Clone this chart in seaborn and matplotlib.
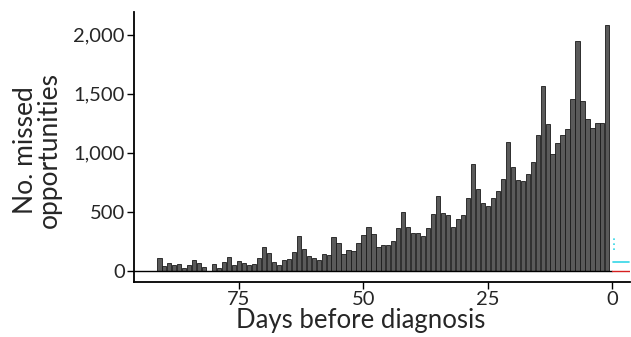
import numpy as np
import pandas as pd
import matplotlib.pyplot as plt
import seaborn as sns
from matplotlib.ticker import FuncFormatter

# -------------------------------
# Data: missed opportunities by days before diagnosis
# -------------------------------

days = list(range(91, 0, -1))

missed = [
    110, 37, 65, 52, 60, 25, 51, 90, 62, 29,        # 91-82
    0, 58, 25, 74, 118, 48, 85, 68, 44, 58,         # 81-72
    107, 198, 146, 76, 48, 90, 102, 160, 294, 184,  # 71-62
    122, 110, 90, 144, 133, 288, 232, 141, 172, 169,  # 61-52
    232, 305, 370, 310, 203, 217, 217, 254, 361, 494,  # 51-42
    372, 316, 316, 296, 359, 482, 632, 491, 469, 372,  # 41-32
    440, 474, 618, 903, 689, 570, 550, 612, 672, 773,  # 31-22
    1086, 875, 765, 757, 815, 917, 1148, 1568, 1241, 985,  # 21-12
    1080, 1145, 1199, 1455, 1946, 1438, 1281, 1207, 1247, 1252,  # 11-2
    2085,                                            # 1
]

yticks = [0, 500, 1000, 1500, 2000]
xticks = [75, 50, 25, 0]

df = pd.DataFrame({"days": days, "missed": missed})

# -------------------------------
# Plot
# -------------------------------

sns.set_style("white")
plt.rcParams["font.family"] = ["Lato", "DejaVu Sans"]

fig = plt.figure(figsize=(6.31, 3.37), dpi=100)
ax = fig.add_axes([0.2124, 0.1632, 0.7856, 0.8008])

sns.barplot(data=df, x="days", y="missed", native_scale=True, width=0.85,
            color="#5a5a5a", saturation=1, edgecolor="#1a1a1a", linewidth=0.6,
            ax=ax)

ax.set_xlim(96.1, -3.5)
ax.set_ylim(-96, 2190)

# zero line (black over data range, red stub past 0)
ax.plot([96.1, 0], [0, 0], color="black", lw=1.0, zorder=1)
ax.plot([0, -3.5], [0, 0], color="#d62020", lw=1.0, zorder=1)
# small cyan marks near the origin
ax.plot([-0.25, -0.25], [175, 275], color="#33d6e6", lw=1.2, ls=(0, (1, 2)))
ax.plot([-0.2, -3.3], [74, 74], color="#33d6e6", lw=1.2)

ax.set_xticks(xticks)
ax.set_yticks(yticks)
ax.yaxis.set_major_formatter(FuncFormatter(lambda v, p: f"{int(v):,}"))

for s in ["top", "right"]:
    ax.spines[s].set_visible(False)
for s in ["left", "bottom"]:
    ax.spines[s].set_color("black")
    ax.spines[s].set_linewidth(1.3)

ax.tick_params(axis="both", direction="out", length=5, width=1.0,
               color="black", labelsize=14.5, pad=1.5, left=True, bottom=True)

ax.set_xlabel("Days before diagnosis", fontsize=18.5)
ax.set_ylabel("No. missed\nopportunities", fontsize=19, linespacing=0.95)
ax.xaxis.set_label_coords(0.458, -0.098)
ax.yaxis.set_label_coords(-0.145, 0.49)

plt.savefig("out.png", dpi=100)
plt.close()
